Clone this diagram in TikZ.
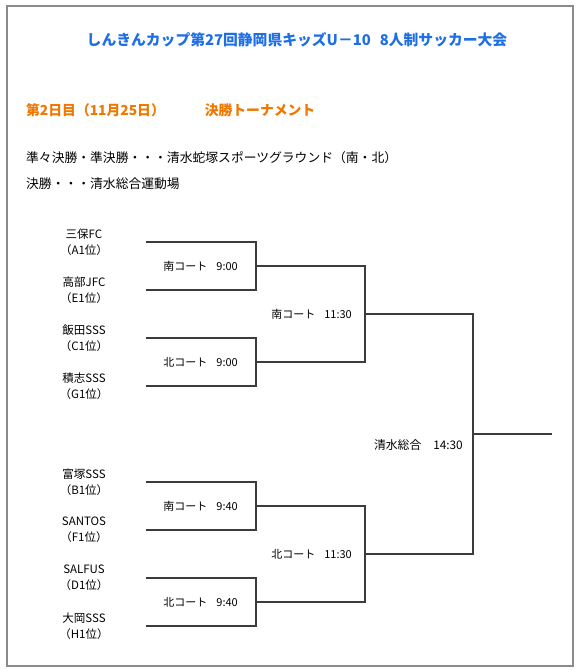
\documentclass[tikz,border=0pt]{standalone}
\usepackage{fontspec}
\setmainfont{Noto Sans CJK JP}
\usepackage{xcolor}
\usepackage{tikz}
\usetikzlibrary{positioning}
\definecolor{titleblue}{RGB}{30,110,230}
\definecolor{dayorange}{RGB}{240,120,0}
\definecolor{framegray}{RGB}{138,138,138}
\definecolor{linegray}{RGB}{60,60,60}

\begin{document}
\begin{tikzpicture}[x=1pt,y=-1pt,
  team/.style={align=center,minimum width=124pt,inner sep=0pt,
               font=\fontsize{11.5}{16}\selectfont},
  court/.style={inner sep=0pt,font=\fontsize{11}{12}\selectfont},
  bracket/.style={draw=linegray,line width=1.1pt}]
  \useasboundingbox (0,0) rectangle (578,672);
  \draw[framegray,line width=2pt] (7,6) rectangle (573,666);
  \node[font=\fontsize{14.8}{16}\selectfont\bfseries,text=titleblue] (title)
    at (297,40) {しんきんカップ第27回静岡県キッズU－10\hspace{9pt}8人制サッカー大会};
  \node[anchor=west,inner sep=0pt,font=\fontsize{13.8}{16}\selectfont\bfseries,
        text=dayorange] (day) at (26,110)
    {第2日目（11月25日）\hspace{40pt}決勝トーナメント};
  \node[anchor=west,inner sep=0pt,font=\fontsize{12.8}{16}\selectfont] (venue1)
    at (26,158) {準々決勝・準決勝・・・清水蛇塚スポーツグラウンド（南・北）};
  \node[anchor=west,inner sep=0pt,font=\fontsize{12.8}{16}\selectfont] (venue2)
    at (26,184) {決勝・・・清水総合運動場};

  \node[team] (t1) at (84,242) {三保FC\\（A1位）};
  \node[team] (t2) at (84,290) {高部JFC\\（E1位）};
  \node[team] (t3) at (84,338) {飯田SSS\\（C1位）};
  \node[team] (t4) at (84,386) {積志SSS\\（G1位）};
  \node[team] (t5) at (84,482) {富塚SSS\\（B1位）};
  \node[team] (t6) at (84,530) {SANTOS\\（F1位）};
  \node[team] (t7) at (84,578) {SALFUS\\（D1位）};
  \node[team] (t8) at (84,626) {大岡SSS\\（H1位）};

  \coordinate (j1) at (256,266);
  \coordinate (j2) at (256,362);
  \coordinate (j3) at (256,506);
  \coordinate (j4) at (256,602);
  \coordinate (j5) at (365,314);
  \coordinate (j6) at (365,554);
  \coordinate (j7) at (473,434);
  \coordinate (win) at (552,434);

  \node[court,left=18pt of j1] (q1) {南コート\hspace{9pt}9:00};
  \node[court,left=18pt of j2] (q2) {北コート\hspace{9pt}9:00};
  \node[court,left=18pt of j3] (q3) {南コート\hspace{9pt}9:40};
  \node[court,left=18pt of j4] (q4) {北コート\hspace{9pt}9:40};
  \node[court,left=13pt of j5] (s1) {南コート\hspace{9pt}11:30};
  \node[court,left=13pt of j6] (s2) {北コート\hspace{9pt}11:30};
  \node[court,anchor=east,font=\fontsize{11.8}{14}\selectfont] (fin)
    at ([xshift=-10pt,yshift=-11pt]j7) {清水総合\hspace{12pt}14:30};

  \draw[bracket] (t1.east) -| (j1) |- (t2.east);
  \draw[bracket] (t3.east) -| (j2) |- (t4.east);
  \draw[bracket] (t5.east) -| (j3) |- (t6.east);
  \draw[bracket] (t7.east) -| (j4) |- (t8.east);
  \draw[bracket] (j1) -| (j5) |- (j2);
  \draw[bracket] (j3) -| (j6) |- (j4);
  \draw[bracket] (j5) -| (j7) |- (j6);
  \draw[bracket] (j7) -- (win);
\end{tikzpicture}
\end{document}
